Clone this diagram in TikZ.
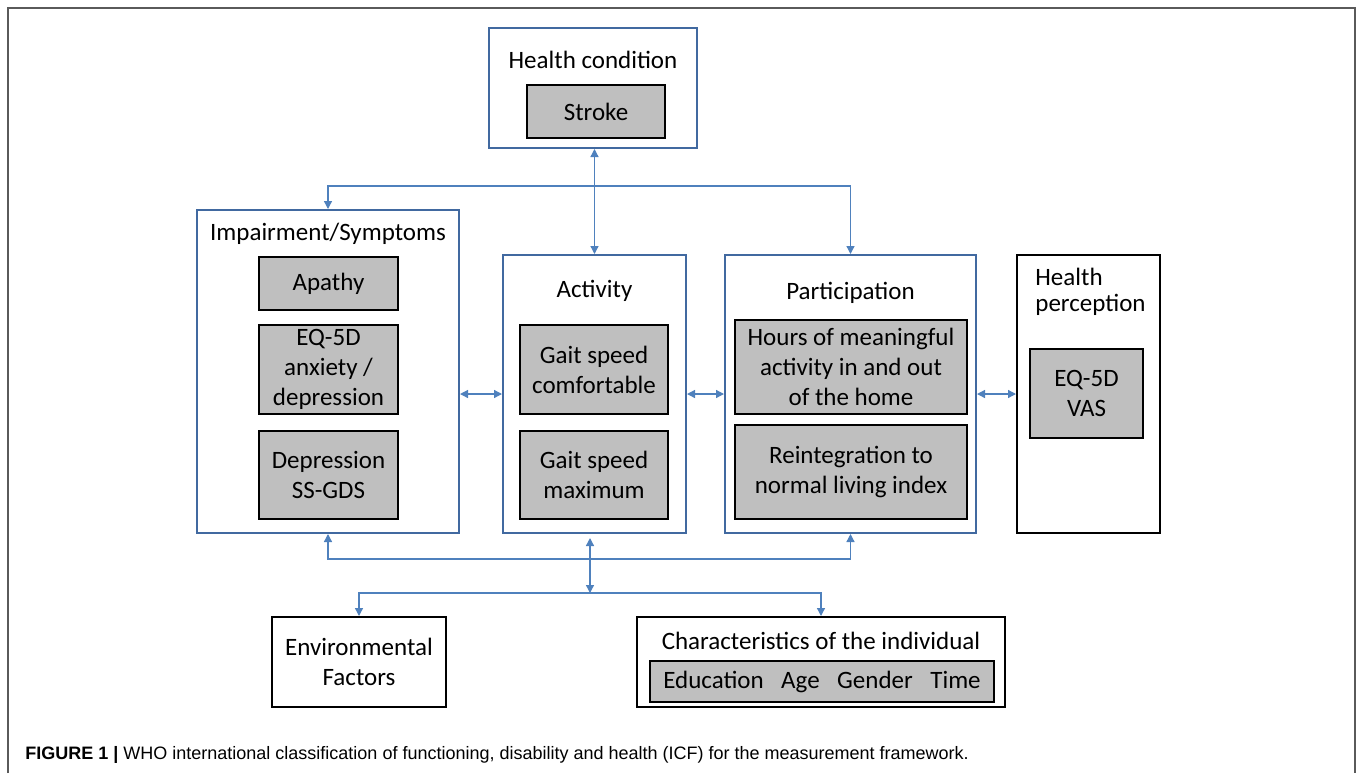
\documentclass[tikz,border=0pt]{standalone}
\usepackage{fontspec}
\setmainfont{Carlito}
\newfontfamily\captionfont{Liberation Sans}
\usepackage{tikz}
\usetikzlibrary{arrows.meta, positioning, calc}
\definecolor{boxBlue}{RGB}{65,105,160}
\definecolor{linkBlue}{RGB}{79,129,189}
\definecolor{boxGray}{RGB}{191,191,191}
\definecolor{frameGray}{RGB}{90,90,90}

\begin{document}
\begin{tikzpicture}[
    x=0.5pt, y=-0.5pt,
    >={Triangle[length=4pt, width=4pt]},
    component/.style={draw=boxBlue, line width=1pt, fill=white, inner sep=0pt},
    outside/.style={draw=black, line width=1pt, fill=white, inner sep=0pt, align=center,
                    font=\fontsize{12.5}{15}\selectfont},
    measure/.style={draw=black, line width=1pt, fill=boxGray, inner sep=0pt, align=center,
                    font=\fontsize{12.5}{15}\selectfont},
    heading/.style={inner sep=0pt, align=center, yshift=-1pt, font=\fontsize{12.5}{15}\selectfont},
    link/.style={draw=linkBlue, line width=0.65pt}
]
\useasboundingbox (0,0) rectangle (1357,773);
\draw[frameGray, line width=1.2pt] (8,773) |- (1355,8) -- (1355,773);

\node[component, minimum width=104pt, minimum height=60pt] (hc) at (593,88) {};
\node[heading] (hcT) at (593,58) {Health condition};
\node[measure, minimum width=69pt, minimum height=26.5pt] (stroke) at (596,111.5) {Stroke};

\node[component, minimum width=131pt, minimum height=161.5pt] (imp) at (328,371.5) {};
\node[heading] (impT) at (328,232) {Impairment/Symptoms};
\node[measure, minimum width=69.5pt, minimum height=26.5pt] (apathy) at (328.5,283.5) {Apathy};
\node[measure, minimum width=69.5pt, minimum height=44.5pt] (eqanx) at (328.5,369.5) {EQ-5D\\anxiety /\\depression};
\node[measure, minimum width=69.5pt, minimum height=44pt] (gds) at (328.5,475) {Depression\\SS-GDS};

\node[component, minimum width=91.5pt, minimum height=139pt] (act) at (594.5,394) {};
\node[heading] (actT) at (594.5,289) {Activity};
\node[measure, minimum width=74pt, minimum height=44.5pt] (gaitC) at (594,369.5) {Gait speed\\comfortable};
\node[measure, minimum width=74pt, minimum height=44pt] (gaitM) at (594,475) {Gait speed\\maximum};

\node[component, minimum width=125.5pt, minimum height=139pt] (par) at (850.5,394) {};
\node[heading] (parT) at (850.5,291) {Participation};
\node[measure, minimum width=116pt, minimum height=47pt] (hours) at (851,367) {Hours of meaningful\\activity in and out\\of the home};
\node[measure, minimum width=116pt, minimum height=47pt] (rnli) at (851,472) {Reintegration to\\normal living index};

\node[outside, minimum width=71.5pt, minimum height=139pt] (hp) at (1088.5,394) {};
\node[heading, align=left, anchor=north west, font=\fontsize{12.5}{12.75}\selectfont] (hpT) at (1035,266) {Health\\perception};
\node[measure, minimum width=56.5pt, minimum height=44.5pt] (vas) at (1086.5,393.5) {EQ-5D\\VAS};

\node[outside, minimum width=87pt, minimum height=45pt] (env) at (359,662) {Environmental\\Factors};
\node[outside, minimum width=184pt, minimum height=45pt] (chr) at (821,662) {};
\node[heading] (chrT) at (821,639) {Characteristics of the individual};
\node[measure, minimum width=172pt, minimum height=20.5pt] (pers) at (822,681.5) {Education\hspace{0.7em}Age\hspace{0.7em}Gender\hspace{0.7em}Time};

\coordinate (topbus) at (594.5,186);
\coordinate (lowbus) at (590,559);
\coordinate (envbus) at (590,593);

\draw[link, <->] (act.north) -- (act.north |- hc.south);
\draw[link, ->] (topbus) -| (imp.north);
\draw[link, ->] (topbus) -| (par.north);

\draw[link, <->] (imp.east |- act.west) -- (act.west);
\draw[link, <->] (act.east) -- (par.west);
\draw[link, <->] (par.east) -- (hp.west);

\draw[link, <->] ($(lowbus |- act.south)+(0,4)$) -- (envbus);
\draw[link, ->] (lowbus) -| (imp.south);
\draw[link, ->] (lowbus) -| (par.south);
\draw[link, ->] (envbus) -| (env.north);
\draw[link, ->] (envbus) -| (chr.north);

\node[anchor=west, inner sep=0pt, font=\captionfont\fontsize{9}{11}\selectfont] (caption) at (25,755)
    {\textbf{FIGURE 1 |} WHO international classification of functioning, disability and health (ICF) for the measurement framework.};
\end{tikzpicture}
\end{document}
